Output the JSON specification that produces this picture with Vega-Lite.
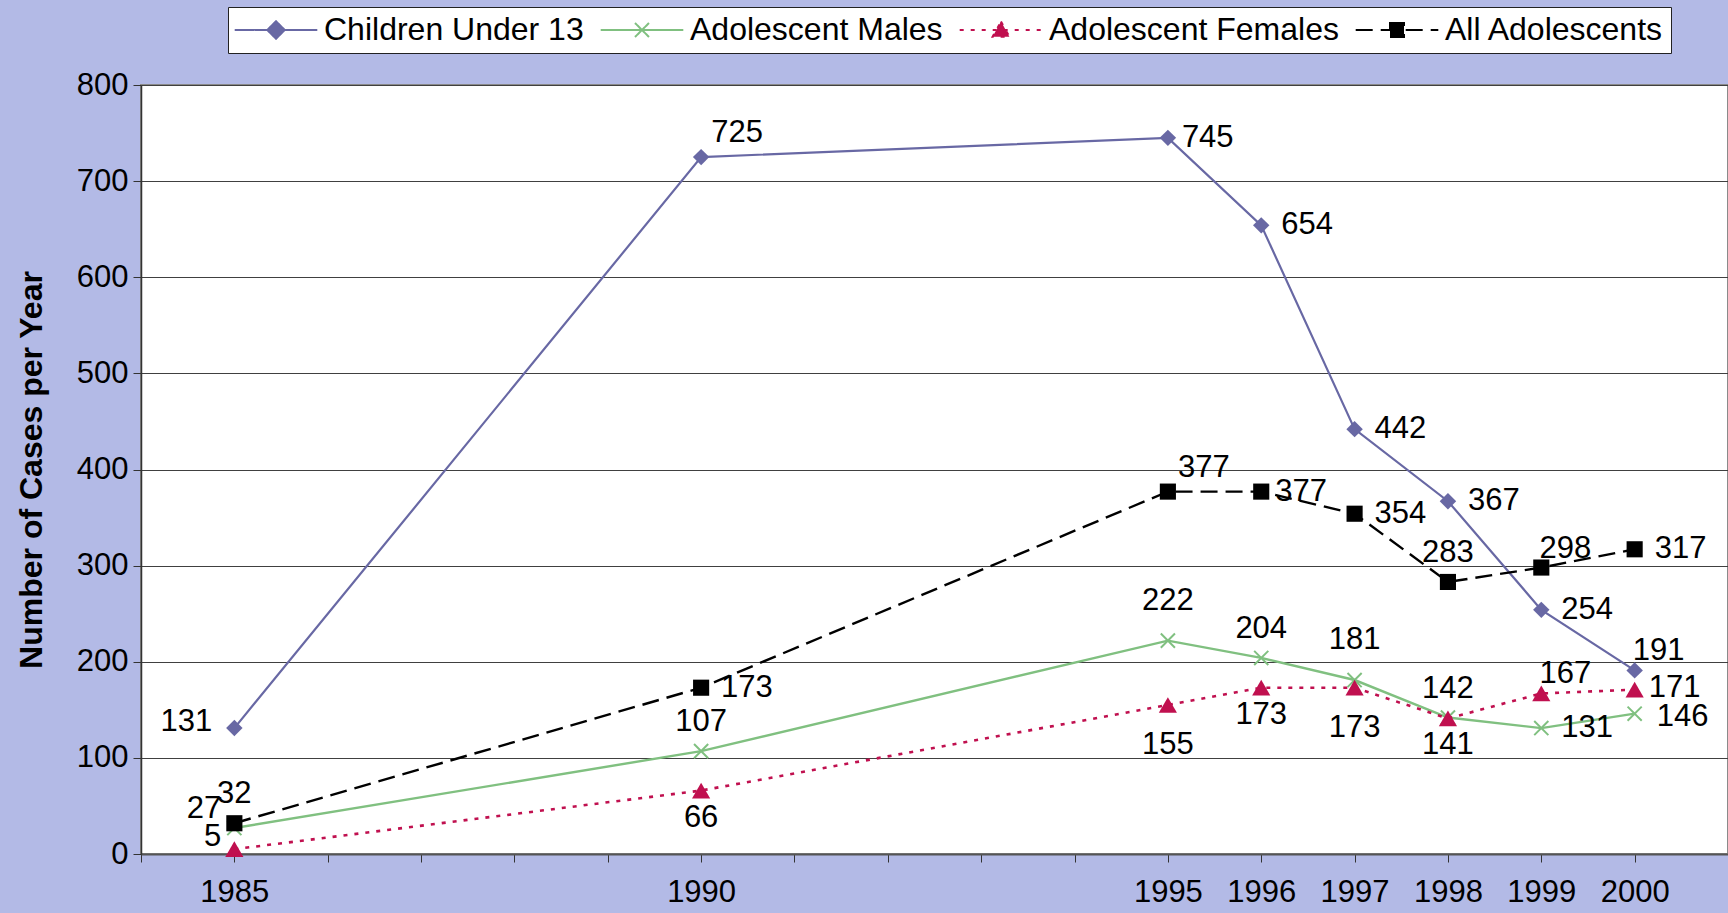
{
  "$schema": "https://vega.github.io/schema/vega-lite/v6.json",
  "width": 1587,
  "height": 769,
  "autosize": {"type": "none"},
  "padding": {"left": 141, "top": 85, "right": 0, "bottom": 59},
  "background": "#B3BAE6",
  "config": {
    "view": {"fill": "white", "stroke": "#8A8A8A", "strokeWidth": 2},
    "font": "Liberation Sans",
    "axis": {"labelFont": "Liberation Sans", "labelFontSize": 31, "labelColor": "black", "tickColor": "#333", "domainColor": "#333", "tickSize": 8}
  },
  "data": {
    "values": [
      {"year": 1985, "series": "Children Under 13", "value": 131},
      {"year": 1990, "series": "Children Under 13", "value": 725},
      {"year": 1995, "series": "Children Under 13", "value": 745},
      {"year": 1996, "series": "Children Under 13", "value": 654},
      {"year": 1997, "series": "Children Under 13", "value": 442},
      {"year": 1998, "series": "Children Under 13", "value": 367},
      {"year": 1999, "series": "Children Under 13", "value": 254},
      {"year": 2000, "series": "Children Under 13", "value": 191},
      {"year": 1985, "series": "Adolescent Males", "value": 27},
      {"year": 1990, "series": "Adolescent Males", "value": 107},
      {"year": 1995, "series": "Adolescent Males", "value": 222},
      {"year": 1996, "series": "Adolescent Males", "value": 204},
      {"year": 1997, "series": "Adolescent Males", "value": 181},
      {"year": 1998, "series": "Adolescent Males", "value": 142},
      {"year": 1999, "series": "Adolescent Males", "value": 131},
      {"year": 2000, "series": "Adolescent Males", "value": 146},
      {"year": 1985, "series": "Adolescent Females", "value": 5},
      {"year": 1990, "series": "Adolescent Females", "value": 66},
      {"year": 1995, "series": "Adolescent Females", "value": 155},
      {"year": 1996, "series": "Adolescent Females", "value": 173},
      {"year": 1997, "series": "Adolescent Females", "value": 173},
      {"year": 1998, "series": "Adolescent Females", "value": 141},
      {"year": 1999, "series": "Adolescent Females", "value": 167},
      {"year": 2000, "series": "Adolescent Females", "value": 171},
      {"year": 1985, "series": "All Adolescents", "value": 32},
      {"year": 1990, "series": "All Adolescents", "value": 173},
      {"year": 1995, "series": "All Adolescents", "value": 377},
      {"year": 1996, "series": "All Adolescents", "value": 377},
      {"year": 1997, "series": "All Adolescents", "value": 354},
      {"year": 1998, "series": "All Adolescents", "value": 283},
      {"year": 1999, "series": "All Adolescents", "value": 298},
      {"year": 2000, "series": "All Adolescents", "value": 317}
    ]
  },
  "encoding": {
    "x": {
      "field": "year", "type": "quantitative",
      "scale": {"domain": [1984, 2001], "nice": false, "zero": false},
      "axis": {"title": null, "values": [1984,1985,1986,1987,1988,1989,1990,1991,1992,1993,1994,1995,1996,1997,1998,1999,2000,2001], "format": "d",
        "labelExpr": "indexof([1985,1990,1995,1996,1997,1998,1999,2000], datum.value) >= 0 ? datum.label : ''",
        "grid": false, "labelPadding": 15, "labelOverlap": false, "labelFlush": false, "labelBound": false, "domainWidth": 2, "domainColor": "#555"}
    },
    "y": {
      "field": "value", "type": "quantitative",
      "scale": {"domain": [0, 800], "nice": false},
      "axis": {"title": "Number of Cases per Year", "titleFontSize": 32, "titleFontWeight": "bold", "titleFont": "Liberation Sans", "titleColor": "black", "titlePadding": 28,
        "values": [0,100,200,300,400,500,600,700,800], "grid": true, "gridColor": "#404040", "gridWidth": 1, "labelPadding": 5, "domainWidth": 1.5}
    }
  },
  "layer": [
    {
      "transform": [{"filter": "datum.series == 'Children Under 13'"}],
      "mark": {"type": "line", "strokeWidth": 2.2, "color": "#6868A4"}
    },
    {
      "transform": [{"filter": "datum.series == 'Adolescent Males'"}],
      "mark": {"type": "line", "strokeWidth": 2.4, "color": "#80C080"}
    },
    {
      "transform": [{"filter": "datum.series == 'Adolescent Females'"}],
      "mark": {"type": "line", "strokeWidth": 2.6, "color": "#C0104F", "strokeDash": [4, 7]}
    },
    {
      "transform": [{"filter": "datum.series == 'All Adolescents'"}],
      "mark": {"type": "line", "strokeWidth": 2.4, "color": "#000000", "strokeDash": [17, 8]}
    },
    {
      "transform": [{"filter": "datum.series == 'Children Under 13'"}],
      "mark": {"type": "point", "shape": "diamond", "filled": true, "color": "#6868A4", "size": 270, "opacity": 1}
    },
    {
      "transform": [{"filter": "datum.series == 'Adolescent Males'"}],
      "mark": {"type": "point", "shape": "M-1,-1L1,1M-1,1L1,-1", "filled": false, "color": "#80C080", "size": 200, "strokeWidth": 2, "opacity": 1}
    },
    {
      "transform": [{"filter": "datum.series == 'Adolescent Females'"}],
      "mark": {"type": "point", "shape": "triangle-up", "filled": true, "color": "#C0104F", "size": 330, "opacity": 1}
    },
    {
      "transform": [{"filter": "datum.series == 'All Adolescents'"}],
      "mark": {"type": "point", "shape": "square", "filled": true, "color": "#000000", "size": 260, "opacity": 1}
    },
    {
      "transform": [{"filter": "false"}],
      "mark": {"type": "point", "filled": true, "size": 196, "strokeWidth": 2, "opacity": 1},
      "encoding": {
        "fill": {"field": "series", "type": "nominal",
          "scale": {"domain": ["Children Under 13", "Adolescent Males", "Adolescent Females", "All Adolescents"], "range": ["#6868A4", "#80C080", "#C0104F", "#000000"]},
          "legend": {"orient": "none", "legendX": 87, "legendY": -78, "direction": "horizontal", "title": null, "fillColor": "white", "strokeColor": "#222", "padding": 7, "labelFontSize": 32, "labelFont": "Liberation Sans", "labelColor": "black", "symbolOffset": 25, "labelOffset": 32, "columnPadding": 12, "symbolStrokeWidth": 2, "symbolSize": 196, "labelLimit": 0, "symbolOpacity": 1}},
        "stroke": {"field": "series", "type": "nominal",
          "scale": {"domain": ["Children Under 13", "Adolescent Males", "Adolescent Females", "All Adolescents"], "range": ["#6868A4", "#80C080", "#C0104F", "#000000"]},
          "legend": {"orient": "none", "legendX": 87, "legendY": -78, "direction": "horizontal", "title": null, "fillColor": "white", "strokeColor": "#222", "padding": 7, "labelFontSize": 32, "labelFont": "Liberation Sans", "labelColor": "black", "symbolOffset": 25, "labelOffset": 32, "columnPadding": 12, "symbolStrokeWidth": 2, "symbolSize": 196, "labelLimit": 0, "symbolOpacity": 1}},
        "shape": {"field": "series", "type": "nominal",
          "scale": {"domain": ["Children Under 13", "Adolescent Males", "Adolescent Females", "All Adolescents"],
            "range": ["M-5.9,0L5.9,0M0,-1.25L1.25,0L0,1.25L-1.25,0Z", "M-5.9,0L5.9,0M-1,-1L1,1M-1,1L1,-1", "M-5.9,0L5.9,0M0,-1.2L1.2,0.95L-1.2,0.95Z", "M-5.9,0L5.9,0M-1,-1L1,-1L1,1L-1,1Z"]},
          "legend": {"orient": "none", "legendX": 87, "legendY": -78, "direction": "horizontal", "title": null, "fillColor": "white", "strokeColor": "#222", "padding": 7, "labelFontSize": 32, "labelFont": "Liberation Sans", "labelColor": "black", "symbolOffset": 25, "labelOffset": 32, "columnPadding": 12, "symbolStrokeWidth": 2, "symbolSize": 196, "labelLimit": 0, "symbolOpacity": 1}},
        "strokeDash": {"field": "series", "type": "nominal",
          "scale": {"domain": ["Children Under 13", "Adolescent Males", "Adolescent Females", "All Adolescents"], "range": [[1, 0], [1, 0], [4, 7], [17, 8]]},
          "legend": {"orient": "none", "legendX": 87, "legendY": -78, "direction": "horizontal", "title": null, "fillColor": "white", "strokeColor": "#222", "padding": 7, "labelFontSize": 32, "labelFont": "Liberation Sans", "labelColor": "black", "symbolOffset": 25, "labelOffset": 32, "columnPadding": 12, "symbolStrokeWidth": 2, "symbolSize": 196, "labelLimit": 0, "symbolOpacity": 1}}
      }
    },
    {
      "transform": [{"filter": "indexof(['Children Under 13|1996','Children Under 13|1997','Children Under 13|1998','Children Under 13|1999','All Adolescents|1990','All Adolescents|1997','All Adolescents|2000','Adolescent Males|1999'], datum.series + '|' + datum.year) >= 0"}],
      "mark": {"type": "text", "align": "left", "baseline": "middle", "dx": 20, "dy": 0, "fontSize": 31, "color": "black"},
      "encoding": {"text": {"field": "value", "type": "quantitative"}}
    },
    {
      "transform": [{"filter": "datum.series == 'Adolescent Males' && datum.year == 2000"}],
      "mark": {"type": "text", "align": "left", "baseline": "middle", "dx": 22, "dy": 3, "fontSize": 31, "color": "black"},
      "encoding": {"text": {"field": "value", "type": "quantitative"}}
    },
    {
      "transform": [{"filter": "indexof(['Children Under 13|1995','All Adolescents|1996'], datum.series + '|' + datum.year) >= 0"}],
      "mark": {"type": "text", "align": "left", "baseline": "middle", "dx": 14, "dy": 0, "fontSize": 31, "color": "black"},
      "encoding": {"text": {"field": "value", "type": "quantitative"}}
    },
    {
      "transform": [{"filter": "datum.series == 'Adolescent Females' && datum.year == 2000"}],
      "mark": {"type": "text", "align": "left", "baseline": "middle", "dx": 14, "dy": -2, "fontSize": 31, "color": "black"},
      "encoding": {"text": {"field": "value", "type": "quantitative"}}
    },
    {
      "transform": [{"filter": "indexof(['Children Under 13|1990','All Adolescents|1995'], datum.series + '|' + datum.year) >= 0"}],
      "mark": {"type": "text", "align": "center", "baseline": "middle", "dx": 36, "dy": -24, "fontSize": 31, "color": "black"},
      "encoding": {"text": {"field": "value", "type": "quantitative"}}
    },
    {
      "transform": [{"filter": "indexof(['All Adolescents|1999','Adolescent Females|1999','Children Under 13|2000'], datum.series + '|' + datum.year) >= 0"}],
      "mark": {"type": "text", "align": "center", "baseline": "middle", "dx": 24, "dy": -19, "fontSize": 31, "color": "black"},
      "encoding": {"text": {"field": "value", "type": "quantitative"}}
    },
    {
      "transform": [{"filter": "indexof(['All Adolescents|1985','All Adolescents|1998','Adolescent Males|1996','Adolescent Males|1998','Adolescent Males|1990'], datum.series + '|' + datum.year) >= 0"}],
      "mark": {"type": "text", "align": "center", "baseline": "middle", "dx": 0, "dy": -29, "fontSize": 31, "color": "black"},
      "encoding": {"text": {"field": "value", "type": "quantitative"}}
    },
    {
      "transform": [{"filter": "indexof(['Adolescent Males|1995','Adolescent Males|1997'], datum.series + '|' + datum.year) >= 0"}],
      "mark": {"type": "text", "align": "center", "baseline": "middle", "dx": 0, "dy": -40, "fontSize": 31, "color": "black"},
      "encoding": {"text": {"field": "value", "type": "quantitative"}}
    },
    {
      "transform": [{"filter": "indexof(['Adolescent Females|1990','Adolescent Females|1996','Adolescent Females|1998'], datum.series + '|' + datum.year) >= 0"}],
      "mark": {"type": "text", "align": "center", "baseline": "middle", "dx": 0, "dy": 27, "fontSize": 31, "color": "black"},
      "encoding": {"text": {"field": "value", "type": "quantitative"}}
    },
    {
      "transform": [{"filter": "indexof(['Adolescent Females|1995','Adolescent Females|1997'], datum.series + '|' + datum.year) >= 0"}],
      "mark": {"type": "text", "align": "center", "baseline": "middle", "dx": 0, "dy": 40, "fontSize": 31, "color": "black"},
      "encoding": {"text": {"field": "value", "type": "quantitative"}}
    },
    {
      "transform": [{"filter": "datum.series == 'Children Under 13' && datum.year == 1985"}],
      "mark": {"type": "text", "align": "right", "baseline": "middle", "dx": -22, "dy": -6, "fontSize": 31, "color": "black"},
      "encoding": {"text": {"field": "value", "type": "quantitative"}}
    },
    {
      "transform": [{"filter": "datum.series == 'Adolescent Males' && datum.year == 1985"}],
      "mark": {"type": "text", "align": "right", "baseline": "middle", "dx": -13, "dy": -19, "fontSize": 31, "color": "black"},
      "encoding": {"text": {"field": "value", "type": "quantitative"}}
    },
    {
      "transform": [{"filter": "datum.series == 'Adolescent Females' && datum.year == 1985"}],
      "mark": {"type": "text", "align": "right", "baseline": "middle", "dx": -13, "dy": -12, "fontSize": 31, "color": "black"},
      "encoding": {"text": {"field": "value", "type": "quantitative"}}
    }
  ]
}
